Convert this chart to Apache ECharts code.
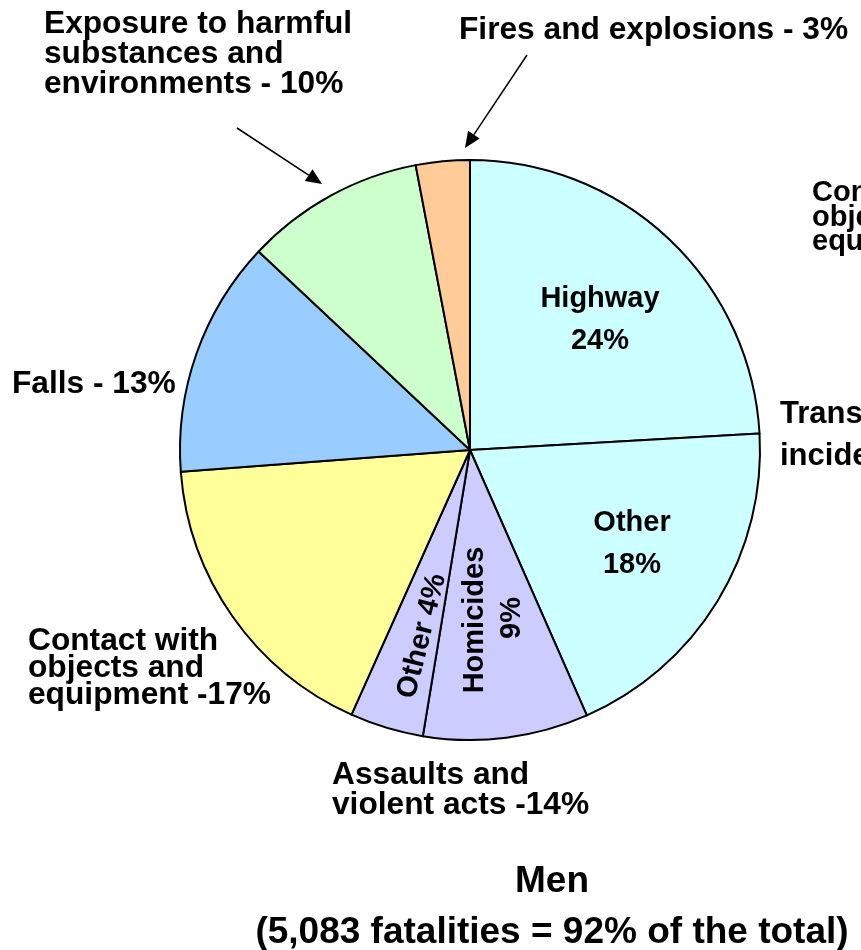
<!DOCTYPE html>
<html>
<head>
<meta charset="utf-8">
<script src="https://cdn.jsdelivr.net/npm/echarts@6/dist/echarts.min.js"></script>
<style>
html,body{margin:0;padding:0;background:#fff;}
#c{width:861px;height:950px;}
</style>
</head>
<body>
<div id="c"></div>
<script>
const categories = ['Highway', 'Other transportation', 'Homicides', 'Other assaults',
  'Contact with objects and equipment', 'Falls',
  'Exposure to harmful substances and environments', 'Fires and explosions'];
// slice sizes (labels show rounded shares)
const values = [24.1, 19.3, 9.2, 4.1, 17.1, 13.2, 10.0, 3.0];
const colors = ['#CCFFFF', '#CCFFFF', '#CCCCFF', '#CCCCFF', '#FFFF99', '#99CCFF', '#CCFFCC', '#FFCC99'];
const titleText = 'Men';
const subtitleText = '(5,083 fatalities = 92% of the total)';

const FF = '"Liberation Sans", Arial, Helvetica, sans-serif';
const chart = echarts.init(document.getElementById('c'), null, {renderer: 'canvas'});

function txt(text, x, y, size, opts) {
  opts = opts || {};
  return {
    type: 'text', x: x, y: y, rotation: opts.rot || 0, z: 100,
    style: {
      text: text, fill: '#000', fontFamily: FF, fontWeight: 'bold', fontSize: size,
      lineHeight: opts.lh || size, textAlign: opts.align || 'left',
      textVerticalAlign: opts.valign || 'top'
    }
  };
}
function arrow(x1, y1, x2, y2) {
  const ang = Math.atan2(y2 - y1, x2 - x1);
  const L = 16, W = 7;
  const bx = x2 - L * Math.cos(ang), by = y2 - L * Math.sin(ang);
  const px = -Math.sin(ang), py = Math.cos(ang);
  return [
    {type: 'line', z: 100, shape: {x1: x1, y1: y1, x2: bx, y2: by}, style: {stroke: '#000', lineWidth: 1.5}},
    {type: 'polygon', z: 100, shape: {points: [[x2, y2], [bx + W * px, by + W * py], [bx - W * px, by - W * py]]},
      style: {fill: '#000'}}
  ];
}

const OS = 31.7;
const graphics = [
  txt('Exposure to harmful\nsubstances and\nenvironments - 10%', 44, 9, OS, {lh: 30}),
  txt('Fires and explosions - 3%', 459, 15, OS, {lh: 30}),
  txt('Contact with\nobjects and\nequipment', 812, 181, 29, {lh: 24.5}),
  txt('Transportation\nincidents - 42%', 780, 393, 31, {lh: 42}),
  txt('Falls - 13%', 12, 369, OS, {lh: 30}),
  txt('Contact with\nobjects and\nequipment -17%', 28, 628, OS, {lh: 27}),
  txt('Assaults and\nviolent acts -14%', 332, 760, OS, {lh: 30}),
  txt('Highway', 600, 299, 29, {align: 'center', valign: 'middle'}),
  txt('24%', 600, 341, 29, {align: 'center', valign: 'middle'}),
  txt('Other', 632, 523, 29, {align: 'center', valign: 'middle'}),
  txt('18%', 632, 565, 29, {align: 'center', valign: 'middle'}),
  txt('Homicides', 475, 620, 29, {align: 'center', valign: 'middle', rot: Math.PI / 2}),
  txt('9%', 512, 618, 29, {align: 'center', valign: 'middle', rot: Math.PI / 2}),
  txt('Other 4%', 422, 636, 29, {align: 'center', valign: 'middle', rot: 76 * Math.PI / 180}),
  txt(titleText, 552, 882, 37, {align: 'center', valign: 'middle'}),
  txt(subtitleText, 552, 933, 37, {align: 'center', valign: 'middle'})
].concat(arrow(527, 55, 465, 148), arrow(237, 128, 322, 184));

chart.setOption({
  animation: false,
  backgroundColor: '#fff',
  series: [{
    type: 'pie',
    center: [470, 450],
    radius: [0, 290],
    startAngle: 90,
    clockwise: true,
    silent: true,
    label: {show: false},
    labelLine: {show: false},
    itemStyle: {borderColor: '#000', borderWidth: 2},
    data: categories.map((c, i) => ({name: c, value: values[i], itemStyle: {color: colors[i]}}))
  }],
  graphic: graphics
});
</script>
</body>
</html>
